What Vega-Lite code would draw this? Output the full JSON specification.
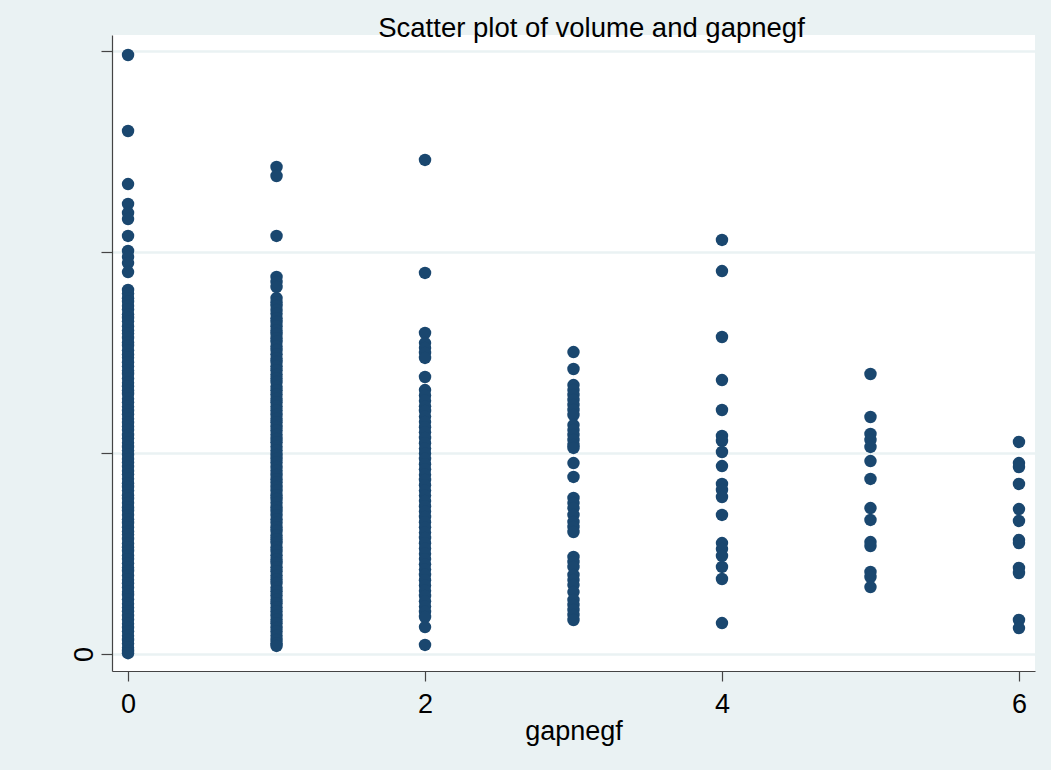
{
  "$schema": "https://vega.github.io/schema/vega-lite/v6.json",
  "width": 923,
  "height": 636,
  "autosize": {"type": "none"},
  "padding": {"left": 112, "top": 35, "right": 16, "bottom": 99},
  "background": "#eaf2f3",
  "title": {"text": "Scatter plot of volume and gapnegf", "anchor": "middle", "dx": 18, "offset": -29, "baseline": "alphabetic", "fontSize": 27.5, "font": "Liberation Sans", "fontWeight": "normal", "color": "#000000"},
  "config": {"view": {"fill": "#ffffff", "stroke": null}},
  "data": {"values": [
    {"gapnegf":0,"volume":298.0},{"gapnegf":0,"volume":260.2},{"gapnegf":0,"volume":233.8},{"gapnegf":0,"volume":223.9},{"gapnegf":0,"volume":219.4},{"gapnegf":0,"volume":216.4},{"gapnegf":0,"volume":208.0},{"gapnegf":0,"volume":200.5},{"gapnegf":0,"volume":197.5},{"gapnegf":0,"volume":194.5},{"gapnegf":0,"volume":190.0},
    {"gapnegf":0,"volume":181.1},{"gapnegf":0,"volume":179.3},{"gapnegf":0,"volume":177.0},{"gapnegf":0,"volume":175.2},{"gapnegf":0,"volume":173.1},{"gapnegf":0,"volume":171.4},{"gapnegf":0,"volume":169.0},{"gapnegf":0,"volume":167.2},{"gapnegf":0,"volume":165.5},{"gapnegf":0,"volume":163.1},{"gapnegf":0,"volume":161.0},{"gapnegf":0,"volume":159.4},{"gapnegf":0,"volume":157.2},{"gapnegf":0,"volume":155.0},{"gapnegf":0,"volume":153.3},{"gapnegf":0,"volume":151.1},{"gapnegf":0,"volume":149.0},{"gapnegf":0,"volume":147.4},{"gapnegf":0,"volume":145.2},{"gapnegf":0,"volume":143.1},{"gapnegf":0,"volume":141.0},{"gapnegf":0,"volume":139.3},{"gapnegf":0,"volume":137.1},{"gapnegf":0,"volume":135.0},{"gapnegf":0,"volume":133.2},{"gapnegf":0,"volume":131.1},{"gapnegf":0,"volume":129.4},{"gapnegf":0,"volume":127.0},{"gapnegf":0,"volume":125.2},{"gapnegf":0,"volume":123.1},{"gapnegf":0,"volume":121.0},{"gapnegf":0,"volume":119.3},{"gapnegf":0,"volume":117.1},{"gapnegf":0,"volume":115.0},{"gapnegf":0,"volume":113.2},{"gapnegf":0,"volume":111.4},{"gapnegf":0,"volume":109.0},{"gapnegf":0,"volume":107.3},{"gapnegf":0,"volume":105.1},{"gapnegf":0,"volume":103.0},{"gapnegf":0,"volume":101.2},{"gapnegf":0,"volume":99.1},{"gapnegf":0,"volume":97.0},{"gapnegf":0,"volume":95.3},{"gapnegf":0,"volume":93.1},{"gapnegf":0,"volume":91.0},{"gapnegf":0,"volume":89.4},{"gapnegf":0,"volume":87.2},{"gapnegf":0,"volume":85.0},{"gapnegf":0,"volume":83.1},{"gapnegf":0,"volume":81.3},{"gapnegf":0,"volume":79.0},{"gapnegf":0,"volume":77.2},{"gapnegf":0,"volume":75.1},{"gapnegf":0,"volume":73.0},{"gapnegf":0,"volume":71.3},{"gapnegf":0,"volume":69.1},{"gapnegf":0,"volume":67.0},{"gapnegf":0,"volume":65.2},{"gapnegf":0,"volume":63.1},{"gapnegf":0,"volume":61.0},{"gapnegf":0,"volume":59.4},{"gapnegf":0,"volume":57.2},{"gapnegf":0,"volume":55.0},{"gapnegf":0,"volume":53.1},{"gapnegf":0,"volume":51.3},{"gapnegf":0,"volume":49.0},{"gapnegf":0,"volume":47.2},{"gapnegf":0,"volume":45.1},{"gapnegf":0,"volume":43.0},{"gapnegf":0,"volume":41.3},{"gapnegf":0,"volume":39.1},{"gapnegf":0,"volume":37.0},{"gapnegf":0,"volume":35.2},{"gapnegf":0,"volume":33.1},{"gapnegf":0,"volume":31.0},{"gapnegf":0,"volume":29.4},{"gapnegf":0,"volume":27.2},{"gapnegf":0,"volume":25.0},{"gapnegf":0,"volume":23.1},{"gapnegf":0,"volume":21.3},{"gapnegf":0,"volume":19.0},{"gapnegf":0,"volume":17.2},{"gapnegf":0,"volume":15.1},{"gapnegf":0,"volume":13.0},{"gapnegf":0,"volume":11.3},{"gapnegf":0,"volume":9.1},{"gapnegf":0,"volume":7.0},{"gapnegf":0,"volume":5.2},{"gapnegf":0,"volume":3.1},{"gapnegf":0,"volume":1.5},{"gapnegf":0,"volume":0.4},
    {"gapnegf":1,"volume":242.3},{"gapnegf":1,"volume":237.8},{"gapnegf":1,"volume":208.0},{"gapnegf":1,"volume":187.6},{"gapnegf":1,"volume":185.1},{"gapnegf":1,"volume":182.6},
    {"gapnegf":1,"volume":177.1},{"gapnegf":1,"volume":175.0},{"gapnegf":1,"volume":173.2},{"gapnegf":1,"volume":171.1},{"gapnegf":1,"volume":169.3},{"gapnegf":1,"volume":167.0},{"gapnegf":1,"volume":165.2},{"gapnegf":1,"volume":163.1},{"gapnegf":1,"volume":161.0},{"gapnegf":1,"volume":159.2},{"gapnegf":1,"volume":157.1},{"gapnegf":1,"volume":155.3},{"gapnegf":1,"volume":153.0},{"gapnegf":1,"volume":151.2},{"gapnegf":1,"volume":149.1},{"gapnegf":1,"volume":147.0},{"gapnegf":1,"volume":145.3},{"gapnegf":1,"volume":143.1},{"gapnegf":1,"volume":141.2},{"gapnegf":1,"volume":139.0},{"gapnegf":1,"volume":137.1},{"gapnegf":1,"volume":135.3},{"gapnegf":1,"volume":133.0},{"gapnegf":1,"volume":131.2},{"gapnegf":1,"volume":129.1},{"gapnegf":1,"volume":127.0},{"gapnegf":1,"volume":125.3},{"gapnegf":1,"volume":123.1},{"gapnegf":1,"volume":121.2},{"gapnegf":1,"volume":119.0},{"gapnegf":1,"volume":117.1},{"gapnegf":1,"volume":115.3},{"gapnegf":1,"volume":113.0},{"gapnegf":1,"volume":111.2},{"gapnegf":1,"volume":109.1},{"gapnegf":1,"volume":107.0},{"gapnegf":1,"volume":105.3},{"gapnegf":1,"volume":103.1},{"gapnegf":1,"volume":101.2},{"gapnegf":1,"volume":99.0},{"gapnegf":1,"volume":97.1},{"gapnegf":1,"volume":95.3},{"gapnegf":1,"volume":93.0},{"gapnegf":1,"volume":91.2},{"gapnegf":1,"volume":89.1},{"gapnegf":1,"volume":87.0},{"gapnegf":1,"volume":85.3},{"gapnegf":1,"volume":83.1},{"gapnegf":1,"volume":81.2},{"gapnegf":1,"volume":79.0},{"gapnegf":1,"volume":77.1},{"gapnegf":1,"volume":75.3},{"gapnegf":1,"volume":73.0},{"gapnegf":1,"volume":71.2},{"gapnegf":1,"volume":69.1},{"gapnegf":1,"volume":67.0},{"gapnegf":1,"volume":65.3},{"gapnegf":1,"volume":63.1},{"gapnegf":1,"volume":61.2},{"gapnegf":1,"volume":59.0},{"gapnegf":1,"volume":57.1},{"gapnegf":1,"volume":55.3},{"gapnegf":1,"volume":53.0},{"gapnegf":1,"volume":51.2},{"gapnegf":1,"volume":49.1},{"gapnegf":1,"volume":47.0},{"gapnegf":1,"volume":45.3},{"gapnegf":1,"volume":43.1},{"gapnegf":1,"volume":41.2},{"gapnegf":1,"volume":39.0},{"gapnegf":1,"volume":37.1},{"gapnegf":1,"volume":35.3},{"gapnegf":1,"volume":33.0},{"gapnegf":1,"volume":31.2},{"gapnegf":1,"volume":29.1},{"gapnegf":1,"volume":27.0},{"gapnegf":1,"volume":25.3},{"gapnegf":1,"volume":23.1},{"gapnegf":1,"volume":21.2},{"gapnegf":1,"volume":19.0},{"gapnegf":1,"volume":17.1},{"gapnegf":1,"volume":15.3},{"gapnegf":1,"volume":13.0},{"gapnegf":1,"volume":11.2},{"gapnegf":1,"volume":9.1},{"gapnegf":1,"volume":7.0},{"gapnegf":1,"volume":5.3},{"gapnegf":1,"volume":4.0},
    {"gapnegf":2,"volume":245.8},{"gapnegf":2,"volume":189.6},{"gapnegf":2,"volume":159.7},{"gapnegf":2,"volume":154.7},{"gapnegf":2,"volume":152.2},{"gapnegf":2,"volume":149.8},{"gapnegf":2,"volume":147.3},{"gapnegf":2,"volume":137.8},{"gapnegf":2,"volume":131.3},{"gapnegf":2,"volume":128.6},{"gapnegf":2,"volume":126.0},{"gapnegf":2,"volume":123.2},{"gapnegf":2,"volume":120.9},{"gapnegf":2,"volume":118.1},{"gapnegf":2,"volume":115.4},{"gapnegf":2,"volume":112.8},{"gapnegf":2,"volume":110.3},{"gapnegf":2,"volume":107.5},{"gapnegf":2,"volume":104.9},{"gapnegf":2,"volume":102.2},{"gapnegf":2,"volume":99.8},{"gapnegf":2,"volume":97.1},{"gapnegf":2,"volume":94.4},{"gapnegf":2,"volume":91.9},{"gapnegf":2,"volume":89.2},{"gapnegf":2,"volume":86.6},{"gapnegf":2,"volume":84.0},{"gapnegf":2,"volume":81.3},{"gapnegf":2,"volume":78.8},{"gapnegf":2,"volume":76.1},{"gapnegf":2,"volume":73.5},{"gapnegf":2,"volume":70.9},{"gapnegf":2,"volume":68.2},{"gapnegf":2,"volume":65.6},{"gapnegf":2,"volume":63.0},{"gapnegf":2,"volume":60.4},{"gapnegf":2,"volume":57.7},{"gapnegf":2,"volume":55.1},{"gapnegf":2,"volume":52.5},{"gapnegf":2,"volume":49.9},{"gapnegf":2,"volume":47.2},{"gapnegf":2,"volume":44.6},{"gapnegf":2,"volume":42.0},{"gapnegf":2,"volume":39.4},{"gapnegf":2,"volume":36.7},{"gapnegf":2,"volume":34.1},{"gapnegf":2,"volume":31.5},{"gapnegf":2,"volume":28.9},{"gapnegf":2,"volume":26.2},{"gapnegf":2,"volume":23.6},{"gapnegf":2,"volume":21.0},{"gapnegf":2,"volume":18.4},{"gapnegf":2,"volume":13.4},{"gapnegf":2,"volume":4.5},
    {"gapnegf":3,"volume":150.2},{"gapnegf":3,"volume":141.8},{"gapnegf":3,"volume":133.8},{"gapnegf":3,"volume":131.3},{"gapnegf":3,"volume":128.9},{"gapnegf":3,"volume":126.4},{"gapnegf":3,"volume":123.9},{"gapnegf":3,"volume":121.4},{"gapnegf":3,"volume":118.9},{"gapnegf":3,"volume":113.9},{"gapnegf":3,"volume":111.4},{"gapnegf":3,"volume":109.0},{"gapnegf":3,"volume":106.5},{"gapnegf":3,"volume":104.0},{"gapnegf":3,"volume":102.5},{"gapnegf":3,"volume":95.0},{"gapnegf":3,"volume":88.1},{"gapnegf":3,"volume":77.6},{"gapnegf":3,"volume":75.1},{"gapnegf":3,"volume":72.6},{"gapnegf":3,"volume":69.2},{"gapnegf":3,"volume":65.7},{"gapnegf":3,"volume":63.2},{"gapnegf":3,"volume":60.7},{"gapnegf":3,"volume":48.3},{"gapnegf":3,"volume":45.8},{"gapnegf":3,"volume":43.3},{"gapnegf":3,"volume":39.3},{"gapnegf":3,"volume":36.8},{"gapnegf":3,"volume":34.3},{"gapnegf":3,"volume":30.8},{"gapnegf":3,"volume":26.9},{"gapnegf":3,"volume":24.4},{"gapnegf":3,"volume":21.9},{"gapnegf":3,"volume":19.4},{"gapnegf":3,"volume":16.9},
    {"gapnegf":4,"volume":206.0},{"gapnegf":4,"volume":190.5},{"gapnegf":4,"volume":157.7},{"gapnegf":4,"volume":136.3},{"gapnegf":4,"volume":121.4},{"gapnegf":4,"volume":108.5},{"gapnegf":4,"volume":106.0},{"gapnegf":4,"volume":100.5},{"gapnegf":4,"volume":93.5},{"gapnegf":4,"volume":84.6},{"gapnegf":4,"volume":81.6},{"gapnegf":4,"volume":78.1},{"gapnegf":4,"volume":69.2},{"gapnegf":4,"volume":55.2},{"gapnegf":4,"volume":52.2},{"gapnegf":4,"volume":48.8},{"gapnegf":4,"volume":43.3},{"gapnegf":4,"volume":37.3},{"gapnegf":4,"volume":15.4},
    {"gapnegf":5,"volume":139.3},{"gapnegf":5,"volume":117.9},{"gapnegf":5,"volume":109.5},{"gapnegf":5,"volume":106.5},{"gapnegf":5,"volume":103.0},{"gapnegf":5,"volume":96.0},{"gapnegf":5,"volume":87.1},{"gapnegf":5,"volume":72.6},{"gapnegf":5,"volume":66.7},{"gapnegf":5,"volume":55.7},{"gapnegf":5,"volume":53.7},{"gapnegf":5,"volume":40.8},{"gapnegf":5,"volume":38.3},{"gapnegf":5,"volume":33.3},
    {"gapnegf":6,"volume":105.5},{"gapnegf":6,"volume":95.0},{"gapnegf":6,"volume":93.0},{"gapnegf":6,"volume":84.6},{"gapnegf":6,"volume":72.1},{"gapnegf":6,"volume":66.2},{"gapnegf":6,"volume":56.7},{"gapnegf":6,"volume":55.2},{"gapnegf":6,"volume":42.8},{"gapnegf":6,"volume":40.3},{"gapnegf":6,"volume":16.9},{"gapnegf":6,"volume":12.9}
  ]},
  "mark": {"type": "circle", "size": 155, "color": "#1a476f", "opacity": 1},
  "encoding": {
    "x": {
      "field": "gapnegf", "type": "quantitative",
      "scale": {"domain": [-0.108, 6.108], "nice": false, "zero": false},
      "axis": {"values": [0, 2, 4, 6], "grid": false, "title": "gapnegf", "titleFont": "Liberation Sans", "titleFontSize": 27, "titleFontWeight": "normal", "titleColor": "#000000", "titlePadding": 1,
               "labelFont": "Liberation Sans", "labelFontSize": 27, "labelColor": "#000000", "labelPadding": 10, "labelFlush": false, "labelOverlap": false,
               "tickSize": 10, "tickColor": "#444444", "tickWidth": 1.2, "domainColor": "#444444", "domainWidth": 1.2}
    },
    "y": {
      "field": "volume", "type": "quantitative",
      "scale": {"domain": [-8.46, 307.96], "nice": false, "zero": false},
      "axis": {"values": [0, 100, 200, 300], "labelExpr": "datum.value == 0 ? '0' : ''", "grid": true, "gridColor": "#eaf2f3", "gridWidth": 2.5, "title": null,
               "labelFont": "Liberation Sans", "labelFontSize": 27, "labelColor": "#000000", "labelAngle": -90, "labelAlign": "center", "labelBaseline": "alphabetic", "labelPadding": 9, "labelFlush": false, "labelOverlap": false,
               "tickSize": 11, "tickColor": "#444444", "tickWidth": 1.2, "domainColor": "#444444", "domainWidth": 1.2}
    }
  }
}
